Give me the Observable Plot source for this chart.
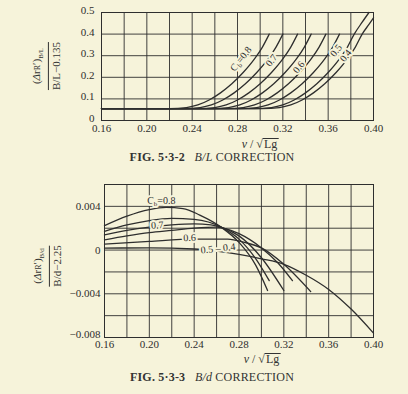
<!DOCTYPE html>
<html><head><meta charset="utf-8">
<script src="https://cdn.jsdelivr.net/npm/d3@7"></script>
<script src="https://cdn.jsdelivr.net/npm/@observablehq/plot@0.6"></script>
<style>
html,body{margin:0;padding:0;background:#f6f3da;}
#wrap{position:relative;width:408px;height:394px;background:#f6f3da;font-family:"Liberation Serif","DejaVu Serif",serif;color:#333;overflow:hidden}
.abs{position:absolute;white-space:nowrap}
.frac{display:inline-block;text-align:center;font-size:11px;line-height:12px}
.frac .num{display:block;border-bottom:1px solid #333;padding:0 2px 1px}
.frac .den{display:block;padding-top:1px}
.title{font-size:12px;letter-spacing:0.2px}
.xlab{font-size:12px;line-height:12px}
.rad{display:inline-block;line-height:10px;border-top:1px solid #333;padding:0 1px}
</style></head><body><div id="wrap"></div>
<script>
// ---------- data ----------
const xTicks = [0.16, 0.20, 0.24, 0.28, 0.32, 0.36, 0.40];
const xGrid = [0.16, 0.18, 0.20, 0.22, 0.24, 0.26, 0.28, 0.30, 0.32, 0.34, 0.36, 0.38, 0.40];
const blYTicks = [0, 0.1, 0.2, 0.3, 0.4, 0.5];
const bdYTicks = [-0.004, 0, 0.004];
const bdYBottomTick = [-0.008];
const bdYGrid = [-0.008, -0.006, -0.004, -0.002, 0, 0.002, 0.004, 0.006];

// FIG 5-3-2 B/L correction curves (Cb values)
const bl080 = [[0.16,0.055],[0.22,0.055],[0.235,0.060],[0.245,0.072],[0.255,0.095],[0.265,0.128],[0.275,0.170],[0.285,0.222],[0.295,0.285],[0.302,0.340],[0.308,0.400]];
const bl075 = [[0.16,0.055],[0.232,0.055],[0.247,0.060],[0.257,0.072],[0.267,0.095],[0.277,0.128],[0.287,0.170],[0.297,0.222],[0.307,0.285],[0.314,0.340],[0.320,0.400]];
const bl070 = [[0.16,0.055],[0.245,0.055],[0.260,0.060],[0.270,0.072],[0.280,0.095],[0.290,0.128],[0.300,0.170],[0.310,0.222],[0.320,0.285],[0.327,0.340],[0.333,0.400]];
const bl065 = [[0.16,0.055],[0.257,0.055],[0.272,0.060],[0.282,0.072],[0.292,0.095],[0.302,0.128],[0.312,0.170],[0.322,0.222],[0.332,0.285],[0.339,0.340],[0.345,0.400]];
const bl060 = [[0.16,0.055],[0.270,0.055],[0.285,0.060],[0.295,0.072],[0.305,0.095],[0.315,0.128],[0.325,0.170],[0.335,0.222],[0.345,0.285],[0.352,0.340],[0.358,0.400]];
const bl055 = [[0.16,0.055],[0.282,0.055],[0.297,0.060],[0.307,0.072],[0.317,0.095],[0.327,0.128],[0.337,0.170],[0.347,0.222],[0.357,0.285],[0.364,0.340],[0.370,0.400]];
const bl050 = [[0.16,0.055],[0.295,0.055],[0.310,0.060],[0.320,0.072],[0.330,0.095],[0.340,0.128],[0.350,0.170],[0.360,0.222],[0.370,0.285],[0.377,0.340],[0.383,0.400],[0.390,0.455],[0.396,0.500]];
const bl040 = [[0.16,0.055],[0.302,0.055],[0.317,0.060],[0.327,0.072],[0.337,0.095],[0.347,0.128],[0.357,0.170],[0.367,0.222],[0.377,0.285],[0.384,0.340],[0.390,0.400],[0.396,0.445],[0.400,0.475]];
const blLabelText = ["Cb=0.8", "0.7", "0.6", "0.5", "0.4"];
const blLabelX = [0.283, 0.310, 0.334, 0.367, 0.3755];
const blLabelY = [0.285, 0.278, 0.247, 0.324, 0.300];

// FIG 5-3-3 B/d correction curves
const bd080 = [[0.16,0.00223],[0.18,0.0031],[0.20,0.0037],[0.215,0.0039],[0.23,0.0038],[0.245,0.0032],[0.264,0.0021],[0.28,0.0007],[0.295,-0.0014],[0.3055,-0.0037]];
const bd075 = [[0.16,0.00171],[0.18,0.0023],[0.20,0.0027],[0.22,0.0029],[0.24,0.0028],[0.264,0.0021],[0.28,0.0010],[0.295,-0.0008],[0.307,-0.0028]];
const bd070 = [[0.16,0.00138],[0.18,0.0018],[0.20,0.0021],[0.22,0.0023],[0.24,0.0024],[0.255,0.0023],[0.264,0.0021],[0.28,0.0013],[0.30,-0.0007],[0.32,-0.0037]];
const bd065 = [[0.16,0.00094],[0.18,0.0013],[0.20,0.0016],[0.22,0.0018],[0.24,0.0020],[0.26,0.0021],[0.28,0.0015],[0.30,0.0002],[0.315,-0.0012],[0.3277,-0.0028]];
const bd060 = [[0.16,0.00055],[0.20,0.0008],[0.24,0.0010],[0.27,0.0010],[0.285,0.0007],[0.30,0.0002],[0.32,-0.0013],[0.344,-0.0038]];
const bd050 = [[0.16,0.00018],[0.20,0.0002],[0.24,0.0001],[0.26,-0.0001],[0.28,-0.0004],[0.30,-0.0008],[0.32,-0.0013],[0.34,-0.0023],[0.36,-0.0036],[0.38,-0.0054],[0.40,-0.0076]];
const bdLabelText = ["Cb=0.8", "0.7", "0.6", "0.5 – 0.4"];
const bdLabelX = [0.2107, 0.207, 0.236, 0.2613];
const bdLabelY = [0.0045, 0.00228, 0.00112, 0.00015];
const bdLabelRot = [0, -4, -3, -6];

// ---------- build ----------
const BG = "#f6f3da", INK = "#2e2e2e";
const toRows = (pairs, cb) => pairs.map(([x, y]) => ({cb, x, y}));
const blRows = [].concat(toRows(bl080,"0.8"),toRows(bl075,"0.75"),toRows(bl070,"0.7"),toRows(bl065,"0.65"),toRows(bl060,"0.6"),toRows(bl055,"0.55"),toRows(bl050,"0.5"),toRows(bl040,"0.4"));
const bdRows = [].concat(toRows(bd080,"0.8"),toRows(bd075,"0.75"),toRows(bd070,"0.7"),toRows(bd065,"0.65"),toRows(bd060,"0.6"),toRows(bd050,"0.5-0.4"));
const blLabels = blLabelText.map((t,i)=>({t, x: blLabelX[i], y: blLabelY[i]}));
const bdLabels = bdLabelText.map((t,i)=>({t, x: bdLabelX[i], y: bdLabelY[i], r: bdLabelRot[i]}));

const fmtX = d => d.toFixed(2);
const fmtBd = d => d === 0 ? "0" : (d < 0 ? "−" : "") + Math.abs(d).toFixed(3);
const common = {
  width: 408,
  style: {background: "transparent", fontFamily: "'Liberation Serif','DejaVu Serif',serif", fontSize: "11px", color: INK, overflow: "visible"}
};

const wrap = document.getElementById("wrap");

const p1 = Plot.plot({
  ...common,
  height: 140,
  marginLeft: 101, marginRight: 35, marginTop: 12, marginBottom: 20,
  x: {domain: [0.16, 0.40]},
  y: {domain: [0, 0.5]},
  marks: [
    Plot.gridX(xGrid, {stroke: INK, strokeOpacity: 1, strokeWidth: 0.9}),
    Plot.gridY(blYTicks, {stroke: INK, strokeOpacity: 1, strokeWidth: 0.9}),
    Plot.frame({stroke: INK, strokeWidth: 1}),
    Plot.axisX(xTicks, {tickSize: 0, tickPadding: 4, tickFormat: fmtX, label: null, fontSize: 11}),
    Plot.axisY(blYTicks, {tickSize: 0, tickPadding: 7, dy: -2, tickFormat: d => d === 0 ? "0" : d.toFixed(1), label: null, fontSize: 11}),
    Plot.line(blRows, {x: "x", y: "y", z: "cb", curve: "monotone-x", stroke: INK, strokeWidth: 1.3}),
    Plot.text(blLabels, {x: "x", y: "y", text: "t", rotate: -52, fill: INK, stroke: BG, strokeWidth: 4, paintOrder: "stroke", fontSize: 10})
  ]
});
p1.style.position = "absolute"; p1.style.left = "0px"; p1.style.top = "0px";
wrap.appendChild(p1);

const p2 = Plot.plot({
  ...common,
  height: 180,
  marginLeft: 104, marginRight: 35, marginTop: 14, marginBottom: 13,
  x: {domain: [0.16, 0.40]},
  y: {domain: [-0.008, 0.006]},
  marks: [
    Plot.gridX(xGrid, {stroke: INK, strokeOpacity: 1, strokeWidth: 0.9}),
    Plot.gridY(bdYGrid, {stroke: INK, strokeOpacity: 1, strokeWidth: 0.9}),
    Plot.frame({stroke: INK, strokeWidth: 1}),
    Plot.axisX(xTicks, {tickSize: 0, tickPadding: 3, tickFormat: fmtX, label: null, fontSize: 11}),
    Plot.axisY(bdYTicks, {tickSize: 0, tickPadding: 4, tickFormat: fmtBd, label: null, fontSize: 11}),
    Plot.axisY(bdYBottomTick, {tickSize: 0, tickPadding: 4, dy: -3, tickFormat: fmtBd, label: null, fontSize: 11}),
    Plot.line(bdRows, {x: "x", y: "y", z: "cb", curve: "monotone-x", stroke: INK, strokeWidth: 1.3}),
    Plot.text(bdLabels, {x: "x", y: "y", text: "t", rotate: "r", fill: INK, stroke: BG, strokeWidth: 4, paintOrder: "stroke", fontSize: 10})
  ]
});
p2.style.position = "absolute"; p2.style.left = "0px"; p2.style.top = "170px";
wrap.appendChild(p2);

// subscript b in "Cb"
document.querySelectorAll("#wrap svg text").forEach(t => {
  const s = t.textContent;
  if (s.startsWith("Cb=")) {
    const ns = "http://www.w3.org/2000/svg";
    t.textContent = "C";
    const sub = document.createElementNS(ns, "tspan");
    sub.setAttribute("font-size", "7"); sub.setAttribute("dy", "2"); sub.textContent = "b";
    const rest = document.createElementNS(ns, "tspan");
    rest.setAttribute("dy", "-2"); rest.textContent = s.slice(2);
    t.appendChild(sub); t.appendChild(rest);
  }
});

// HTML text: titles, axis labels
function add(html, left, top, cls, center) {
  const d = document.createElement("div");
  d.className = "abs " + (cls || "");
  d.innerHTML = html;
  d.style.left = left + "px"; d.style.top = top + "px";
  if (center) d.style.transform = "translate(-50%,-50%)";
  wrap.appendChild(d);
  return d;
}
add('<i>v</i> / √<span class="rad">Lg</span>', 260, 144, "xlab", true);
add('<b style="font-weight:600">FIG. 5·3-2</b>&nbsp;&nbsp; <i>B/L</i> CORRECTION', 212, 157, "title", true);
add('<i>v</i> / √<span class="rad">Lg</span>', 262, 359, "xlab", true);
add('<b style="font-weight:600">FIG. 5·3-3</b>&nbsp;&nbsp; <i>B/d</i> CORRECTION', 212, 377, "title", true);

function yLabel(sub, den, cx, cy) {
  const d = add('<span class="frac"><span class="num">(<i>Δ</i>r<span style="font-size:8px">R</span>′)<sub style="font-size:7px">' + sub + '</sub></span><span class="den">' + den + '</span></span>', cx, cy, "", false);
  d.style.transform = "translate(-50%,-50%) rotate(-90deg)";
}
yLabel("B/L", "B/L−0.135", 47, 66);
yLabel("B/d", "B/d−2.25", 48, 266);
</script>
</body></html>
